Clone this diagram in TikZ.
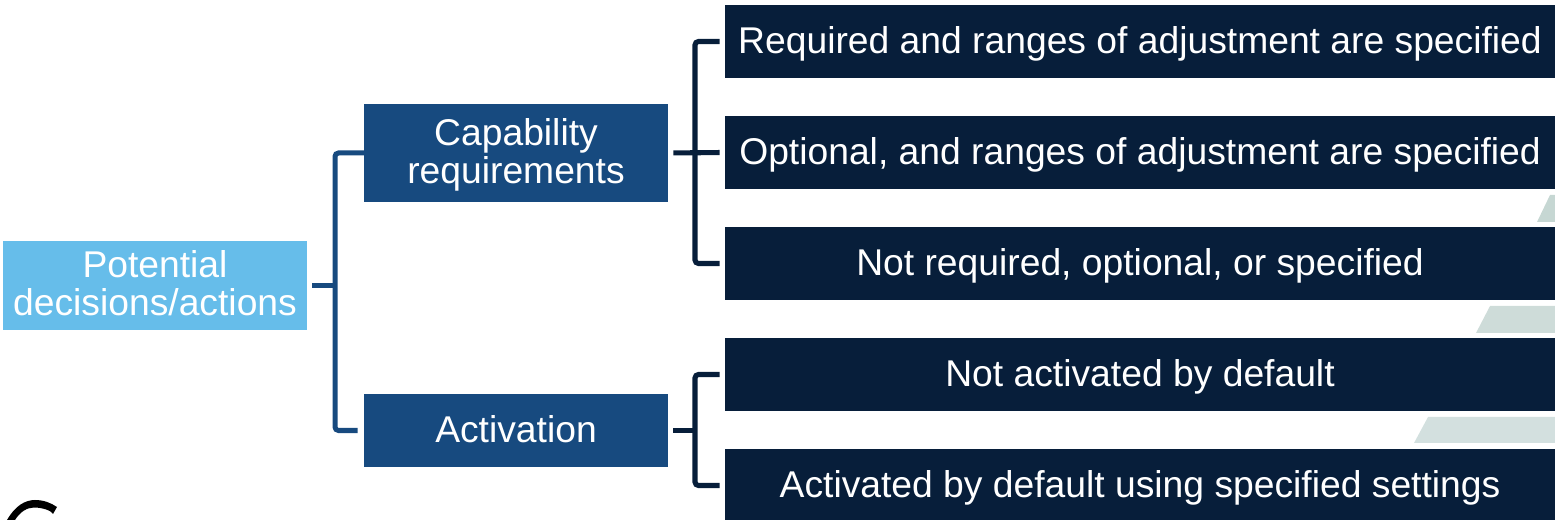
\documentclass[tikz,border=0pt]{standalone}
\usepackage{xcolor}
\usepackage{fontspec}
\setmainfont{Liberation Sans}
\definecolor{lightblue}{RGB}{102,189,234}
\definecolor{midblue}{RGB}{23,74,127}
\definecolor{darknavy}{RGB}{7,30,58}
\tikzstyle{box} = [draw=none, text=white, align=center, inner sep=0pt,
  font=\fontsize{21.2pt}{21.6pt}\selectfont]
\tikzstyle{rootbox} = [box, fill=lightblue, minimum width=6.08cm, minimum height=1.78cm]
\tikzstyle{midbox} = [box, fill=midblue, minimum width=6.08cm]
\tikzstyle{leafbox} = [box, fill=darknavy, minimum width=16.6cm, minimum height=1.46cm,
  text height=17pt, text depth=3.3pt]
\tikzstyle{midline} = [draw=midblue, line width=2.85pt, rounded corners=2pt]
\tikzstyle{leafline} = [draw=darknavy, line width=2.9pt, rounded corners=2pt]

\begin{document}
\begin{tikzpicture}
  \useasboundingbox (0,0) rectangle (31.1,10.4);
  \clip (0,0) rectangle (31.1,10.4);
  % slanted bands behind the boxes
  \fill[fill={rgb,255:red,198;green,215;blue,211}] (30.74,5.96) -- (31,6.5) -- (31.1,6.5) -- (31.1,5.96) -- cycle;
  \fill[fill={rgb,255:red,206;green,220;blue,217}] (29.52,3.74) -- (29.8,4.28) -- (31.1,4.28) -- (31.1,3.74) -- cycle;
  \fill[fill={rgb,255:red,211;green,224;blue,223}] (28.28,1.54) -- (28.56,2.06) -- (31.1,2.06) -- (31.1,1.54) -- cycle;
  % piece of a letter, lower left
  \fill[black] (0.14,0) .. controls (0.3,0.28) and (0.5,0.4) .. (0.7,0.4)
    .. controls (0.88,0.4) and (1.02,0.34) .. (1.14,0.26) -- (1.06,0.12)
    .. controls (1.04,0.18) and (0.86,0.25) .. (0.68,0.25)
    .. controls (0.54,0.25) and (0.4,0.16) .. (0.3,0) -- cycle;
  % boxes
  \node[rootbox, text depth=2.6pt] (potential) at (3.1, 4.69) {Potential\\decisions/actions};
  \node[midbox, minimum height=1.96cm] (capability) at (10.32, 7.34) {\rule{0pt}{17.7pt}Capability\\requirements};
  \node[midbox, minimum height=1.46cm, text height=17pt, text depth=3pt] (activation) at (10.32, 1.79) {Activation};
  \node[leafbox] (required) at (22.8, 9.57) {Required and ranges of adjustment are specified};
  \node[leafbox] (optional) at (22.8, 7.35) {Optional, and ranges of adjustment are specified};
  \node[leafbox] (notrequired) at (22.8, 5.13) {Not required, optional, or specified};
  \node[leafbox] (notactivated) at (22.8, 2.91) {Not activated by default};
  \node[leafbox] (activated) at (22.8, 0.69) {Activated by default using specified settings};
  % junctions
  \coordinate (rootjoin) at (6.7, 4.69);
  \coordinate (capjoin) at (13.9, 7.34);
  \coordinate (actjoin) at (13.9, 1.79);
  % connectors
  \draw[midline, shorten <=0.1cm] (potential.east) -- (rootjoin);
  \draw[midline, shorten <=-1.02cm, shorten >=0.12cm] (capability.west) -| (rootjoin) |- (activation.west);
  \draw[leafline, shorten <=0.1cm, shorten >=0.1cm] (capability.east) -- (optional.west);
  \draw[leafline, shorten <=0.1cm, shorten >=0.1cm] (required.west) -| (capjoin) |- (notrequired.west);
  \draw[leafline, shorten <=0.1cm] (activation.east) -- (actjoin);
  \draw[leafline, shorten <=0.1cm, shorten >=0.1cm] (notactivated.west) -| (actjoin) |- (activated.west);
\end{tikzpicture}
\end{document}
